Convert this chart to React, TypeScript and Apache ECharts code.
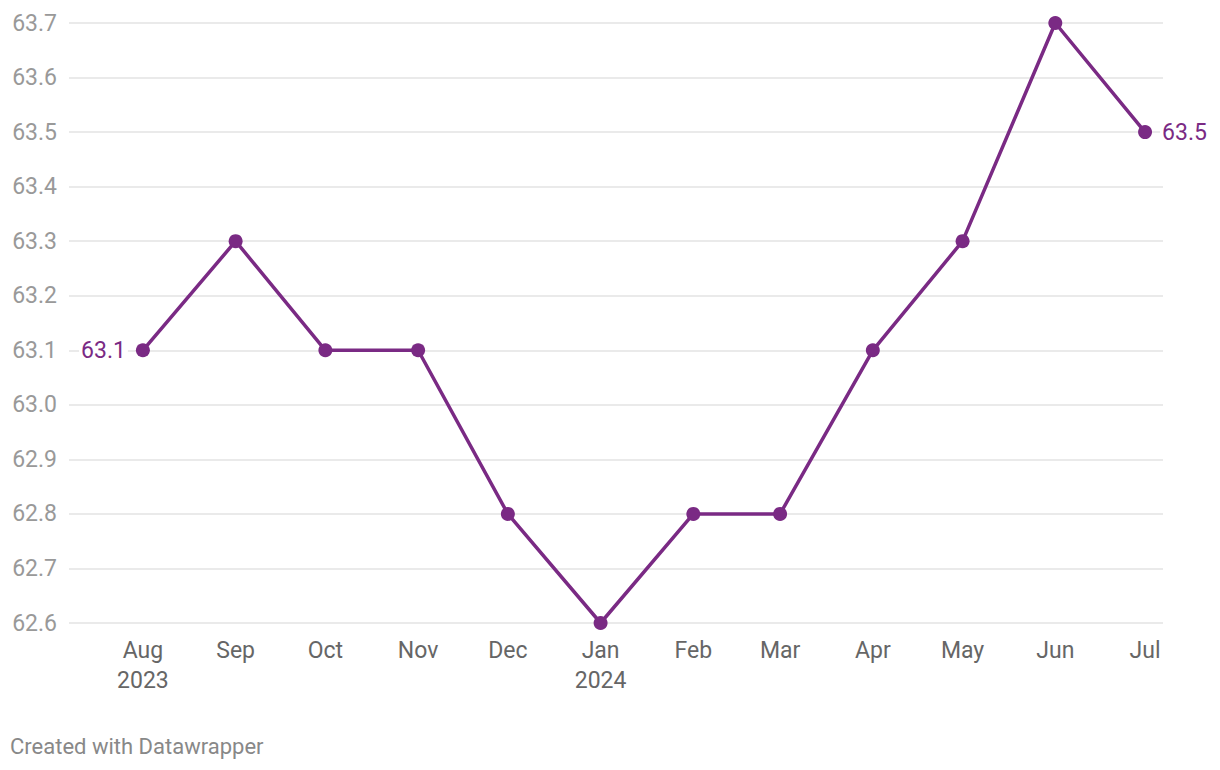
import React, { useEffect, useRef } from "react";
import * as echarts from "echarts";

const months: string[] = [
  "2023-08-01", "2023-09-01", "2023-10-01", "2023-11-01", "2023-12-01", "2024-01-01",
  "2024-02-01", "2024-03-01", "2024-04-01", "2024-05-01", "2024-06-01", "2024-07-01",
];
const monthLabels: string[] = ["Aug", "Sep", "Oct", "Nov", "Dec", "Jan", "Feb", "Mar", "Apr", "May", "Jun", "Jul"];
const yearLabels: Record<string, string> = { "2023-08-01": "2023", "2024-01-01": "2024" };
const values: number[] = [63.1, 63.3, 63.1, 63.1, 62.8, 62.6, 62.8, 62.8, 63.1, 63.3, 63.7, 63.5];

const DAY = 86400000;
const toTs = (s: string) => {
  const [y, m, d] = s.split("-").map(Number);
  return Date.UTC(y, m - 1, d);
};

const PURPLE = "#7a2a84";

export default function App() {
  const ref = useRef<HTMLDivElement>(null);
  useEffect(() => {
    if (!ref.current) return;
    const chart = echarts.init(ref.current, undefined, { renderer: "svg" });
    const t0 = toTs(months[0]);
    const days = months.map((m) => Math.round((toTs(m) - t0) / DAY));
    const labelFor = (v: number) => {
      let bi = 0;
      days.forEach((d, i) => {
        if (Math.abs(d - v) < Math.abs(days[bi] - v)) bi = i;
      });
      const y = yearLabels[months[bi]];
      return y ? monthLabels[bi] + "\n" + y : monthLabels[bi];
    };
    const last = values.length - 1;
    chart.setOption({
      animation: false,
      grid: { left: 69, right: 57, top: 23, bottom: 147, containLabel: false },
      xAxis: {
        type: "value",
        min: -24.7,
        max: days[last] + 6.0,
        axisLine: { show: false },
        axisTick: { show: false },
        splitLine: { show: false },
        axisLabel: {
          customValues: days,
          formatter: (v: number) => labelFor(v),
          color: "#666666",
          fontFamily: "Roboto",
          fontSize: 23,
          lineHeight: 30,
          margin: 12,
          hideOverlap: false,
          showMinLabel: true,
          showMaxLabel: true,
        },
      },
      yAxis: {
        type: "value",
        min: 62.6,
        max: 63.7,
        interval: 0.1,
        axisLine: { show: false },
        axisTick: { show: false },
        splitLine: { lineStyle: { color: "#e3e3e3", width: 1.5 } },
        axisLabel: {
          formatter: (v: number) => v.toFixed(1),
          color: "#999999",
          fontFamily: "Roboto",
          fontSize: 23,
          margin: 12,
        },
      },
      series: [
        {
          type: "line",
          data: days.map((d, i) =>
            i === 0
              ? { value: [d, values[i]], label: { position: "left" } }
              : [d, values[i]]
          ),
          lineStyle: { color: PURPLE, width: 3.5 },
          itemStyle: { color: PURPLE },
          symbol: "circle",
          symbolSize: 14,
          label: {
            show: true,
            fontFamily: "Roboto",
            fontSize: 23,
            color: PURPLE,
            backgroundColor: "#ffffff",
            padding: [0, 2],
            formatter: (p: any) => {
              if (p.dataIndex === 0 || p.dataIndex === last) return values[p.dataIndex].toFixed(1);
              return "";
            },
            position: "right",
            distance: 8,
          },
        },
      ],
    });
    return () => chart.dispose();
  }, []);
  return (
    <div style={{ position: "fixed", left: 0, top: 0, width: 1220, height: 770, background: "#fff" }}>
      <div ref={ref} style={{ width: 1220, height: 770 }} />
      <div
        style={{
          position: "absolute",
          left: 10,
          top: 734,
          fontFamily: "Roboto",
          fontSize: 22,
          color: "#888888",
        }}
      >
        Created with Datawrapper
      </div>
    </div>
  );
}
